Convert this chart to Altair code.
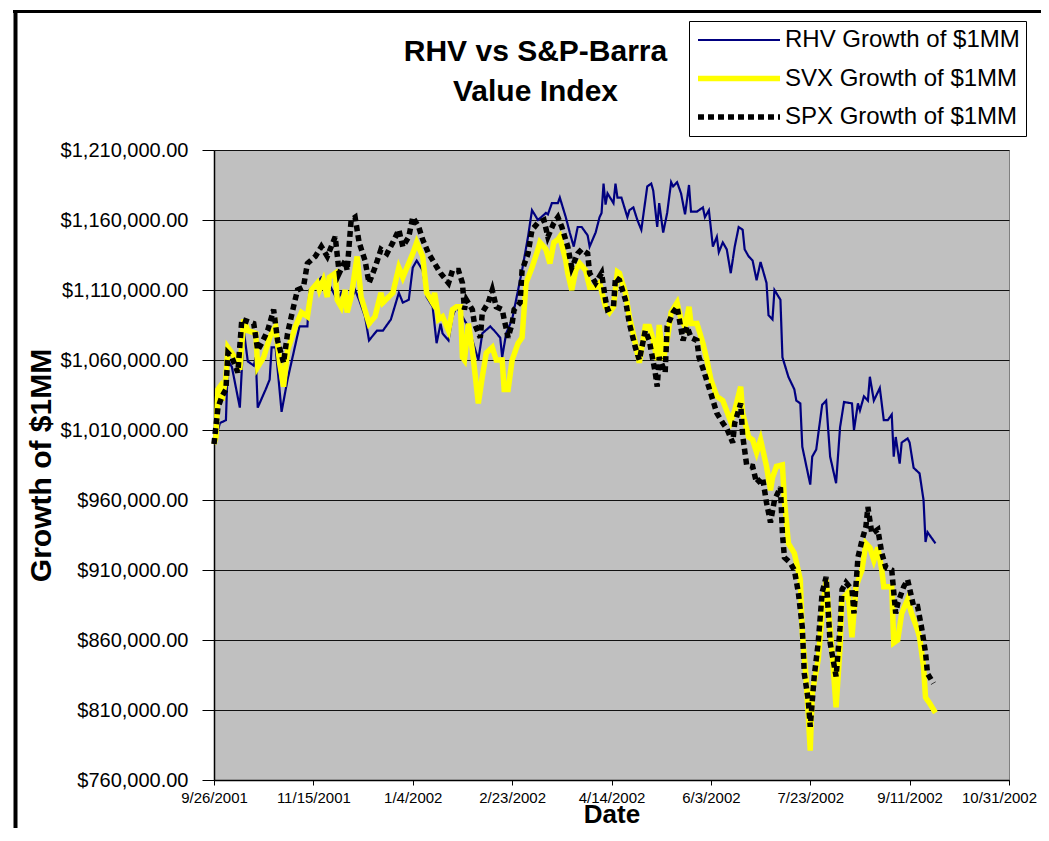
import altair as alt
import pandas as pd

# ---------------- data ----------------
series_names = ["RHV Growth of $1MM", "SVX Growth of $1MM", "SPX Growth of $1MM"]
series_colors = ["#000080", "#FFFF00", "#000000"]

# x tick labels, one every 50 days from 9/26/2001
x_tick_labels = ["9/26/2001", "11/15/2001", "1/4/2002", "2/23/2002", "4/14/2002",
                 "6/3/2002", "7/23/2002", "9/11/2002", "10/31/2002"]

# days since 9/26/2001, values in thousands of dollars
rhv_days = [0, 3, 6, 7, 9, 13, 15, 17, 20, 21,
            22, 26, 28, 29, 31, 34, 37, 43, 47, 48,
            51, 54, 58, 62, 64, 67, 71, 73, 76, 78,
            82, 85, 89, 93, 95, 98, 100, 102, 105, 107,
            110, 112, 114, 115, 118, 120, 122, 125, 127, 130,
            133, 135, 139, 141, 144, 145, 147, 150, 152, 155,
            158, 160, 163, 167, 168, 170, 173, 174, 177, 179,
            181, 183, 185, 188, 189, 192, 194, 195, 196, 197,
            198, 201, 202, 203, 205, 208, 209, 211, 213, 215,
            218, 220, 221, 223, 224, 226, 228, 230, 231, 233,
            235, 237, 239, 240, 243, 246, 247, 249, 251, 253,
            254, 256, 258, 260, 262, 264, 266, 267, 269, 271,
            273, 275, 278, 279, 281, 282, 285, 286, 289, 292,
            293, 295, 296, 300, 301, 303, 306, 308, 310, 313,
            315, 317, 321, 322, 324, 325, 327, 329, 330, 332,
            335, 337, 339, 341, 342, 343, 345, 346, 349, 350,
            352, 355, 357, 358, 359, 363]
rhv_values = [1000, 1015, 1017, 1060, 1055, 1026, 1081, 1059, 1056, 1062,
              1026, 1039, 1046, 1069, 1069, 1023, 1046, 1084, 1084, 1110,
              1114, 1119, 1114, 1103, 1108, 1096, 1110, 1103, 1091, 1074,
              1081, 1081, 1089, 1108, 1101, 1103, 1126, 1131, 1124, 1105,
              1098, 1072, 1086, 1079, 1074, 1091, 1098, 1091, 1086, 1074,
              1060, 1079, 1084, 1081, 1076, 1062, 1079, 1089, 1103, 1124,
              1148, 1167, 1160, 1165, 1164, 1172, 1172, 1176, 1162, 1151,
              1141, 1155, 1155, 1149, 1141, 1151, 1162, 1165, 1186, 1171,
              1179, 1172, 1186, 1176, 1176, 1162, 1167, 1169, 1160, 1153,
              1184, 1186, 1181, 1155, 1172, 1151, 1165, 1187, 1184, 1187,
              1179, 1164, 1185, 1166, 1166, 1169, 1162, 1167, 1141, 1148,
              1137, 1144, 1139, 1122, 1141, 1155, 1153, 1139, 1134, 1131,
              1117, 1130, 1115, 1092, 1089, 1110, 1103, 1062, 1048, 1039,
              1031, 1029, 998, 971, 991, 996, 1028, 1031, 991, 972,
              1012, 1030, 1029, 1010, 1029, 1024, 1034, 1031, 1048, 1031,
              1040, 1017, 1017, 1021, 991, 1005, 986, 1001, 1004, 1001,
              983, 979, 960, 930, 937, 929]

svx_days = [0, 1, 2, 3, 4, 6, 7, 9, 12, 13,
            15, 17, 21, 22, 25, 28, 31, 33, 35, 37,
            41, 44, 47, 49, 52, 53, 55, 57, 58, 61,
            62, 64, 66, 67, 69, 72, 74, 78, 81, 84,
            85, 90, 93, 95, 100, 102, 105, 107, 110, 111,
            113, 115, 118, 120, 122, 124, 125, 126, 128, 130,
            133, 135, 137, 140, 142, 145, 146, 148, 150, 153,
            155, 157, 160, 163, 164, 167, 169, 171, 173, 174,
            177, 178, 180, 182, 184, 187, 189, 192, 194, 197,
            199, 201, 203, 204, 207, 209, 212, 214, 217, 219,
            221, 223, 224, 226, 228, 230, 233, 235, 237, 239,
            240, 243, 246, 248, 250, 253, 256, 260, 262, 265,
            266, 269, 271, 273, 275, 278, 280, 281, 283, 286,
            287, 289, 292, 295, 296, 298, 300, 301, 304, 306,
            308, 311, 313, 315, 316, 319, 321, 323, 326, 328,
            330, 332, 334, 336, 337, 341, 342, 344, 346, 349,
            351, 354, 355, 357, 358, 360, 363]
svx_values = [1000, 1005, 1039, 1041, 1031, 1048, 1069, 1065, 1058, 1053,
              1089, 1081, 1079, 1055, 1062, 1076, 1084, 1058, 1041, 1067,
              1084, 1094, 1091, 1110, 1115, 1110, 1117, 1105, 1119, 1122,
              1103, 1098, 1110, 1094, 1105, 1134, 1105, 1086, 1091, 1108,
              1101, 1108, 1126, 1119, 1136, 1144, 1134, 1108, 1101, 1108,
              1089, 1091, 1081, 1096, 1098, 1098, 1062, 1060, 1086, 1067,
              1029, 1048, 1065, 1069, 1060, 1060, 1039, 1039, 1060, 1072,
              1076, 1115, 1126, 1139, 1144, 1139, 1129, 1144, 1146, 1148,
              1131, 1122, 1110, 1124, 1129, 1124, 1112, 1112, 1115, 1098,
              1094, 1098, 1123, 1122, 1108, 1091, 1072, 1058, 1084, 1084,
              1074, 1060, 1085, 1060, 1074, 1094, 1101, 1089, 1084, 1098,
              1086, 1086, 1072, 1060, 1046, 1034, 1031, 1016, 1024, 1041,
              1022, 1005, 1003, 994, 1003, 984, 967, 976, 984, 985,
              960, 929, 922, 903, 865, 831, 781, 822, 846, 879,
              903, 851, 812, 855, 889, 894, 862, 898, 910, 929,
              926, 917, 926, 910, 898, 898, 858, 860, 879, 889,
              879, 867, 862, 841, 819, 815, 808]

spx_days = [0, 2, 4, 6, 7, 9, 12, 14, 20, 22,
            24, 27, 30, 32, 35, 37, 40, 42, 45, 47,
            51, 54, 57, 61, 63, 66, 67, 69, 71, 73,
            76, 78, 81, 84, 87, 90, 93, 95, 98, 100,
            103, 105, 108, 111, 114, 118, 120, 123, 125, 126,
            127, 130, 131, 134, 135, 138, 140, 142, 145, 146,
            148, 150, 151, 154, 155, 158, 160, 163, 166, 168,
            171, 173, 175, 178, 180, 183, 185, 188, 189, 192,
            195, 197, 198, 201, 202, 204, 207, 209, 212, 214,
            217, 219, 222, 223, 224, 227, 228, 231, 233, 236,
            238, 240, 243, 244, 246, 250, 253, 256, 258, 261,
            262, 265, 266, 268, 271, 273, 276, 278, 280, 282,
            285, 286, 287, 290, 292, 294, 296, 297, 299, 300,
            302, 304, 306, 308, 310, 313, 315, 316, 318, 321,
            322, 324, 326, 328, 329, 331, 334, 336, 338, 341,
            343, 344, 347, 349, 352, 354, 356, 358, 359, 362]
spx_values = [1000, 1026, 1034, 1039, 1065, 1062, 1051, 1089, 1086, 1067,
              1072, 1081, 1096, 1074, 1058, 1079, 1098, 1110, 1112, 1129,
              1134, 1141, 1134, 1148, 1122, 1131, 1124, 1160, 1162, 1144,
              1131, 1115, 1126, 1139, 1136, 1144, 1153, 1141, 1148, 1162,
              1155, 1146, 1136, 1129, 1122, 1115, 1124, 1124, 1115, 1096,
              1103, 1096, 1086, 1076, 1094, 1101, 1110, 1098, 1096, 1089,
              1076, 1086, 1096, 1101, 1124, 1136, 1153, 1158, 1160, 1148,
              1158, 1162, 1155, 1141, 1126, 1136, 1139, 1136, 1122, 1115,
              1122, 1103, 1096, 1098, 1119, 1117, 1103, 1086, 1069, 1060,
              1081, 1074, 1051, 1041, 1062, 1051, 1084, 1094, 1098, 1074,
              1084, 1076, 1074, 1062, 1054, 1036, 1022, 1015, 1011, 1001,
              1015, 1029, 1006, 985, 984, 972, 976, 958, 944, 960,
              969, 936, 919, 915, 910, 894, 869, 836, 817, 798,
              834, 858, 894, 905, 858, 834, 869, 896, 901, 896,
              879, 919, 931, 941, 955, 936, 939, 922, 912, 910,
              879, 886, 898, 903, 884, 884, 869, 851, 836, 829]

# ---------------- table ----------------
rows = []
for name, days, vals in [(series_names[0], rhv_days, rhv_values),
                         (series_names[1], svx_days, svx_values),
                         (series_names[2], spx_days, spx_values)]:
    assert len(days) == len(vals), name
    for d, v in zip(days, vals):
        rows.append({"day": d, "value": v * 1000, "series": name})
df = pd.DataFrame(rows)

FONT = "Liberation Sans"

x_label_expr = "[" + ",".join("'" + s + "'" for s in x_tick_labels) + "][round(datum.value / 50)]"

x_enc = alt.X(
    "day:Q",
    scale=alt.Scale(domain=[0, 400], nice=False, zero=False),
    axis=alt.Axis(
        values=list(range(0, 401, 50)), labelExpr=x_label_expr,
        labelFont=FONT, labelFontSize=15, labelColor="black",
        labelFlush=False, labelOverlap=False, labelPadding=5,
        labelOffset={"condition": {"test": "datum.value == 400", "value": -10}, "value": 0},
        tickSize=5, tickColor="black", domainColor="black", domainWidth=1.5,
        grid=False,
        title="Date", titleFont=FONT, titleFontSize=26, titleFontWeight="bold",
        titleColor="black", titleX=397.5, titleY=42, titleAlign="center",
        titleBaseline="alphabetic",
    ),
)

y_enc = alt.Y(
    "value:Q",
    scale=alt.Scale(domain=[760000, 1210000], nice=False, zero=False),
    axis=alt.Axis(
        values=list(range(760000, 1210001, 50000)), format="$,.2f",
        labelFont=FONT, labelFontSize=20, labelColor="black",
        labelFlush=False, labelOverlap=False, labelPadding=14,
        tickSize=12, tickColor="black", domainColor="black", domainWidth=1.5,
        grid=True, gridColor="#111111", gridWidth=1,
        title="Growth of $1MM", titleFont=FONT, titleFontSize=30,
        titleFontWeight="bold", titleColor="black", titleAngle=270,
        titleX=-164, titleY=315, titleAlign="center", titleBaseline="alphabetic",
    ),
)


def make_legend():
    return alt.Legend(
        title=None, orient="none", legendX=475, legendY=-129, direction="vertical",
        padding=6, strokeColor="black", fillColor="white",
        symbolType="stroke", symbolSize=6724, clipHeight=26, rowPadding=12.5,
        labelFont=FONT, labelFontSize=24, labelColor="black", labelOffset=2,
        labelLimit=400,
    )


color_enc = alt.Color(
    "series:N",
    scale=alt.Scale(domain=series_names, range=series_colors),
    legend=make_legend(),
)
width_enc = alt.StrokeWidth(
    "series:N",
    scale=alt.Scale(type="ordinal", domain=series_names, range=[2.2, 5.5, 5.5]),
    legend=make_legend(),
)
dash_enc = alt.StrokeDash(
    "series:N",
    scale=alt.Scale(domain=series_names, range=[[1, 0], [1, 0], [6, 4]]),
    legend=make_legend(),
)

base = alt.Chart(df).encode(x=x_enc, y=y_enc, color=color_enc,
                            strokeWidth=width_enc, strokeDash=dash_enc)

rhv = base.transform_filter(alt.datum.series == series_names[0]).mark_line()
svx = base.transform_filter(alt.datum.series == series_names[1]).mark_line()
spx = base.transform_filter(alt.datum.series == series_names[2]).mark_line(strokeCap="butt")

frame_df = pd.DataFrame({"k": [0]})
top_border = alt.Chart(frame_df).mark_rule(color="black", strokeWidth=3).encode(
    x=alt.value(-201), x2=alt.value(840), y=alt.value(-138.5))
left_border = alt.Chart(frame_df).mark_rule(color="black", strokeWidth=4).encode(
    x=alt.value(-198.5), y=alt.value(-140), y2=alt.value(720))

chart = alt.layer(top_border, left_border, rhv, svx, spx).properties(
    width=795,
    height=630,
    autosize=alt.AutoSizeParams(type="none"),
    padding={"left": 206, "top": 142, "right": 32, "bottom": 48},
    title=alt.Title(
        text=["RHV vs S&P-Barra", "Value Index"], font=FONT, fontSize=30,
        fontWeight="bold", color="black", anchor="middle", dx=-76, offset=-99,
        lineHeight=40, frame="group",
    ),
).configure(
    background="white", font=FONT,
).configure_view(
    fill="#C0C0C0", stroke="#808080", strokeWidth=1,
)

chart.save("out.html", embed_options={"renderer": "svg", "actions": False})
